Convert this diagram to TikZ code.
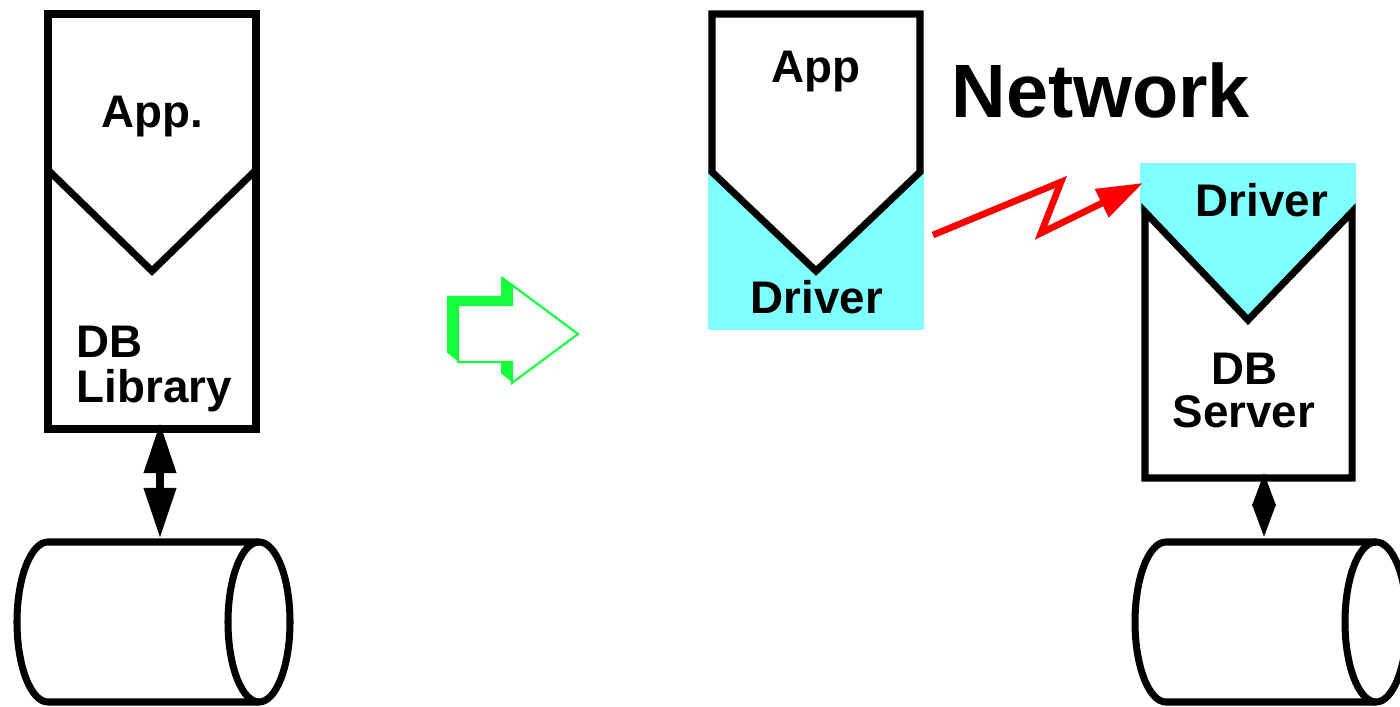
\documentclass[tikz,border=0pt]{standalone}
\usepackage{fontspec}
\setmainfont{Liberation Sans}
\usepackage{tikz}
\usetikzlibrary{arrows.meta}
\definecolor{drvcyan}{RGB}{128,255,255}
\definecolor{arrgreen}{RGB}{20,255,60}
\newcommand{\bigarrowpath}{(458,305) -- (512,305) -- (512,285) -- (578,334) -- (512,383) -- (512,362) -- (458,362) -- cycle}

\tikzset{
  outline/.style={draw=black, line width=2pt},
  lbl/.style={font=\bfseries\fontsize{13}{12.6}\selectfont, inner sep=0pt, anchor=north},
  dblbig/.style={line width=2pt, {Triangle[length=5mm,width=3.1mm]}-{Triangle[length=5mm,width=3.1mm]}},
  dblsmall/.style={line width=2pt, {Triangle[length=3.4mm,width=2.2mm]}-{Triangle[length=3.4mm,width=2.2mm]}},
  netarrow/.style={draw=red, line width=1.9pt, -{Triangle[length=4.6mm,width=3mm]}},
}

\begin{document}
\begin{tikzpicture}[x=0.01cm, y=-0.01cm]
  \useasboundingbox (0,0) rectangle (1400,706);

  % left: app linked with the library
  \draw[outline] (48,14) rectangle (256,429);
  \draw[outline] (48,170) -- (152,271) -- (256,170);
  \node[lbl] (app) at (152,95) {App.};
  \node[lbl, anchor=north west, align=left, font=\bfseries\fontsize{13}{13}\selectfont] (lib) at (76,325) {DB\\Library};
  \coordinate (libbot) at (160,423);

  % left disk
  \draw[outline] (259,542) -- (48,542) arc[start angle=-90, end angle=-270, x radius=31, y radius=80] -- (259,702);
  \draw[outline] (259,622) ellipse[x radius=31, y radius=80];
  \coordinate (disktop) at (160,538);

  \draw[dblbig] (libbot) -- (disktop);

  % green block arrow with its shadow
  \foreach \t in {1,...,11}
    \fill[arrgreen, shift={(-\t,{-0.82*\t})}] \bigarrowpath;
  \filldraw[fill=white, draw=arrgreen, line width=0.6pt] \bigarrowpath;

  % right: app with driver
  \fill[drvcyan] (708,170) rectangle (924,330);
  \draw[outline, fill=white] (712,14) -- (920,14) -- (920,172) -- (816,271) -- (712,172) -- cycle;
  \node[lbl] (client) at (816,50) {App};
  \node[lbl] (drvleft) at (817,280) {Driver};
  \coordinate (drvout) at (933,235);

  \node[lbl, anchor=north west, font=\bfseries\fontsize{21.5}{24}\selectfont] (net) at (951,62) {Network};

  % server with driver
  \fill[drvcyan] (1140,163) -- (1356,163) -- (1356,212) -- (1248,320) -- (1140,212) -- cycle;
  \draw[outline] (1145,212) -- (1248,320) -- (1352,212) -- (1352,478) -- (1145,478) -- cycle;
  \node[lbl] (drvright) at (1262,183) {Driver};
  \node[lbl, align=center, font=\bfseries\fontsize{13}{12.2}\selectfont] (server) at (1244,352) {DB\\Server};
  \coordinate (drvin) at (1143,183);
  \coordinate (srvbot) at (1264,472);

  % red link over the network
  \coordinate (zigup) at (1061,182);
  \coordinate (zigdown) at (1041,233);
  \draw[netarrow] (drvout) -- (zigup) -- (zigdown) -- (drvin);

  % right disk
  \draw[outline] (1376,542) -- (1166,542) arc[start angle=-90, end angle=-270, x radius=31, y radius=80] -- (1376,702);
  \draw[outline] (1376,622) ellipse[x radius=31, y radius=80];
  \coordinate (disktop2) at (1264,538);

  \draw[dblsmall] (srvbot) -- (disktop2);
\end{tikzpicture}
\end{document}
